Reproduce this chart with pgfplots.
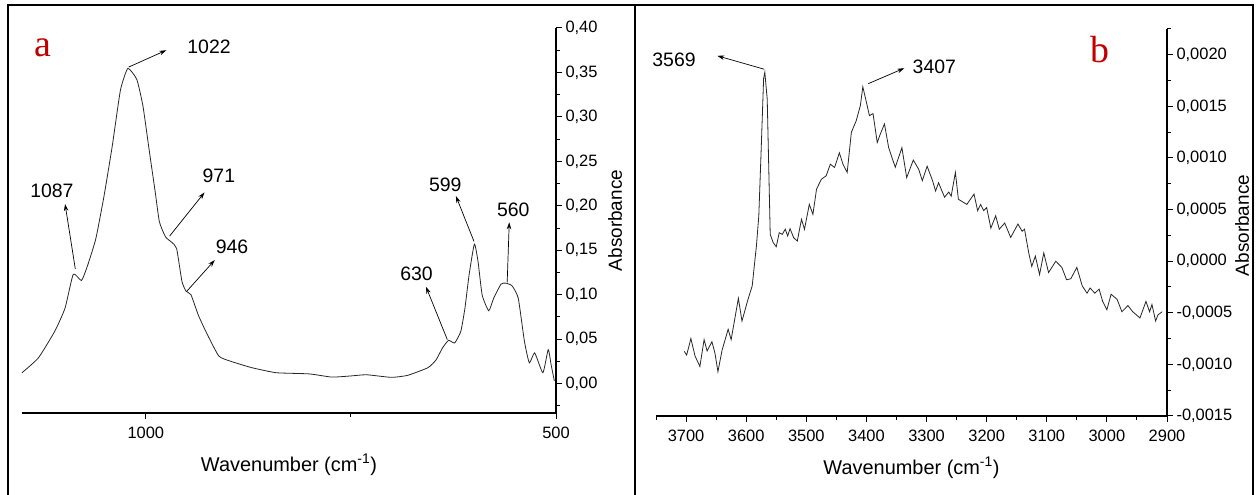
\documentclass[border=0pt]{standalone}
\usepackage{pgfplots}
\pgfplotsset{compat=1.18}
\usepackage{fontspec}
\setmainfont{Liberation Sans}
\newfontfamily\timesfont{Liberation Serif}
\usetikzlibrary{arrows.meta}
\definecolor{labred}{RGB}{192,0,0}
\tikzset{
  ann/.style={font=\fontsize{19.5}{22}\selectfont},
  arr/.style={-{Stealth[length=7bp,width=4.5bp]}, line width=0.7bp, black},
}
\pgfplotsset{
  myax/.style={
    scale only axis, clip=false,
    x dir=reverse,
    axis x line*=bottom, axis y line*=right,
    axis line style={line width=1.3bp, -},
    tick align=outside,
    major tick length=6bp, minor tick length=4bp,
    every tick/.style={line width=1bp, black},
    /pgf/number format/assume math mode=true,
    tick label style={font=\fontsize{16.5}{19}\selectfont},
    label style={font=\fontsize{20}{23}\selectfont},
    scaled x ticks=false, scaled y ticks=false,
    xticklabel style={yshift=-5bp, /pgf/number format/.cd, 1000 sep={}},
  },
}
\begin{document}
\begin{tikzpicture}[x=1bp,y=1bp]
\useasboundingbox (0,0) rectangle (1257,495);
\draw[line width=1.6bp] (8,0) -- (8,490) -- (1253,490) -- (1253,0);
\draw[line width=1.2bp] (635,0) -- (635,490);
% ---------------- panel a ----------------
\begin{axis}[myax,
  at={(22bp,82bp)}, anchor=south west,
  width=534bp, height=385bp,
  xmin=500, xmax=1151, ymin=-0.033, ymax=0.40,
  xtick={1000,500}, minor xtick={750},
  ytick={0,0.05,0.1,0.15,0.2,0.25,0.3,0.35,0.4},
  minor ytick={-0.025,0.025,0.075,0.125,0.175,0.225,0.275,0.325,0.375},
  yticklabel style={/pgf/number format/.cd, fixed, fixed zerofill, precision=2, use comma},
  xlabel={Wavenumber (cm\textsuperscript{-1})},
  ylabel={Absorbance},
  xlabel style={at={(rel axis cs:0.5,0)}, anchor=center, yshift=-52bp},
  ylabel style={at={(rel axis cs:1,0.5)}, anchor=center, font=\fontsize{19}{22}\selectfont, yshift=-59bp},
]
\addplot[black!85, line width=0.8bp, smooth, tension=0.3] coordinates {
(1151,0.0123) (1131,0.029) (1111,0.059) (1098.5,0.085) (1088.5,0.123) (1078.5,0.116)
(1071,0.133) (1061,0.163) (1051,0.211) (1041,0.267) (1031,0.330) (1022,0.3545)
(1011,0.342) (1003.5,0.312) (996,0.263) (988.5,0.215) (983.5,0.182) (976,0.165)
(968.5,0.159) (962.5,0.152) (956,0.115) (951,0.104) (945,0.100) (936,0.077)
(926,0.057) (911,0.031) (896,0.025) (871,0.018) (841,0.0123) (801,0.011)
(773.5,0.0074) (751,0.0086) (731,0.010) (701,0.0071) (681,0.0093) (656,0.018)
(646,0.027) (638.5,0.040) (631,0.0487) (623.5,0.0458) (616,0.059) (611,0.085)
(606,0.122) (599.5,0.157) (595,0.137) (590,0.0997) (582,0.082) (576,0.096)
(567,0.112) (561,0.113) (553.5,0.110) (546,0.096) (538.5,0.0476) (532.5,0.0234)
(526,0.0346) (516,0.0123) (509.5,0.0383) (506,0.0216) (502,0.003)
};
\node[font=\timesfont\fontsize{38}{40}\selectfont, text=labred] at (axis cs:1126,0.378) {a};
\node[ann] at (axis cs:923,0.379) {1022};
\draw[arr] (axis cs:1021,0.356) -- (axis cs:975,0.375);
\node[ann] at (axis cs:911,0.234) {971};
\draw[arr] (axis cs:971,0.166) -- (axis cs:928.5,0.215);
\node[ann] at (axis cs:895,0.154) {946};
\draw[arr] (axis cs:950,0.104) -- (axis cs:916,0.139);
\node[ann] at (axis cs:1114.5,0.217) {1087};
\draw[arr] (axis cs:1086,0.129) -- (axis cs:1098.5,0.202);
\node[ann] at (axis cs:670,0.124) {630};
\draw[arr] (axis cs:632.5,0.0495) -- (axis cs:658.5,0.109);
\node[ann] at (axis cs:635,0.224) {599};
\draw[arr] (axis cs:600,0.160) -- (axis cs:622,0.211);
\node[ann] at (axis cs:552,0.195) {560};
\draw[arr] (axis cs:559.5,0.114) -- (axis cs:557,0.1815);
\end{axis}
% ---------------- panel b ----------------
\begin{axis}[myax,
  at={(656bp,79bp)}, anchor=south west,
  width=511bp, height=387bp,
  xmin=2900, xmax=3750, ymin=-0.0015, ymax=0.00225,
  xtick={2900,3000,3100,3200,3300,3400,3500,3600,3700},
  minor xtick={2950,3050,3150,3250,3350,3450,3550,3650,3750},
  ytick={-0.0015,-0.001,-0.0005,0,0.0005,0.001,0.0015,0.002},
  minor ytick={-0.00125,-0.00075,-0.00025,0.00025,0.00075,0.00125,0.00175,0.00225},
  yticklabel style={/pgf/number format/.cd, fixed, fixed zerofill, precision=4, use comma},
  xlabel={Wavenumber (cm\textsuperscript{-1})},
  ylabel={Absorbance},
  xlabel style={at={(rel axis cs:0.5,0)}, anchor=center, yshift=-52bp},
  ylabel style={at={(rel axis cs:1,0.5)}, anchor=center, font=\fontsize{19}{22}\selectfont, yshift=-75bp, xshift=-3bp},
]
\addplot[black!85, line width=0.8bp] coordinates {
(3703,-0.000874) (3699,-0.00091) (3692,-0.00075) (3685,-0.00092) (3677,-0.00102)
(3670,-0.00076) (3665,-0.00087) (3657,-0.00078) (3652,-0.00089) (3647,-0.00107)
(3640,-0.00086) (3630,-0.00066) (3625,-0.00076) (3613,-0.00036) (3607,-0.00058)
(3597,-0.00037) (3590,-0.00024) (3583,0.000146) (3579,0.00044) (3575,0.00109)
(3571,0.00177) (3569,0.00183) (3565,0.00157) (3560,0.00026) (3555,0.000179)
(3550,0.00014) (3545,0.000276) (3540,0.00026) (3535,0.00031) (3531,0.000244)
(3527,0.000315) (3521,0.000227) (3515,0.000195) (3508,0.000406) (3503,0.00031)
(3495,0.000551) (3489,0.000454) (3483,0.000697) (3475,0.000794) (3467,0.000827)
(3460,0.00094) (3453,0.000908) (3445,0.00105) (3439,0.00094) (3432,0.00086)
(3425,0.00125) (3417,0.00136) (3410,0.00151) (3406,0.00169) (3400,0.00154)
(3395,0.00141) (3389,0.00143) (3382,0.00115) (3377,0.00123) (3370,0.00133)
(3363,0.0011) (3352,0.00091) (3341,0.0011) (3333,0.00081) (3322,0.00098)
(3313,0.00089) (3307,0.00078) (3299,0.00092) (3290,0.00078) (3285,0.00068)
(3280,0.00076) (3270,0.00062) (3263,0.00067) (3259,0.00063) (3252,0.00086)
(3247,0.0006) (3233,0.00055) (3221,0.00065) (3215,0.00049) (3210,0.00055)
(3205,0.00049) (3200,0.00052) (3193,0.00032) (3185,0.00044) (3179,0.00031)
(3170,0.00037) (3160,0.00023) (3148,0.00036) (3141,0.00029) (3137,0.00031)
(3130,0.00008) (3125,-0.00005) (3119,0.000049) (3112,-0.00013) (3105,0.00008)
(3097,-0.00011) (3085,0.0) (3075,-0.00006) (3067,-0.00018) (3060,-0.00017)
(3050,-0.00006) (3041,-0.00024) (3033,-0.00031) (3028,-0.00026) (3020,-0.00031)
(3013,-0.00027) (3007,-0.00039) (3000,-0.00047) (2993,-0.00032) (2983,-0.00037)
(2975,-0.00049) (2965,-0.00043) (2957,-0.00049) (2945,-0.00055) (2935,-0.00039)
(2929,-0.00049) (2925,-0.00042) (2919,-0.00058) (2915,-0.00052) (2908,-0.00049)
};
\node[font=\timesfont\fontsize{38}{40}\selectfont, text=labred] at (axis cs:3012,0.00205) {b};
\node[ann] at (axis cs:3720,0.00195) {3569};
\draw[arr] (axis cs:3570,0.00186) -- (axis cs:3648,0.00199);
\node[ann] at (axis cs:3287,0.00188) {3407};
\draw[arr] (axis cs:3397,0.00172) -- (axis cs:3337,0.00187);
\end{axis}
\end{tikzpicture}
\end{document}
